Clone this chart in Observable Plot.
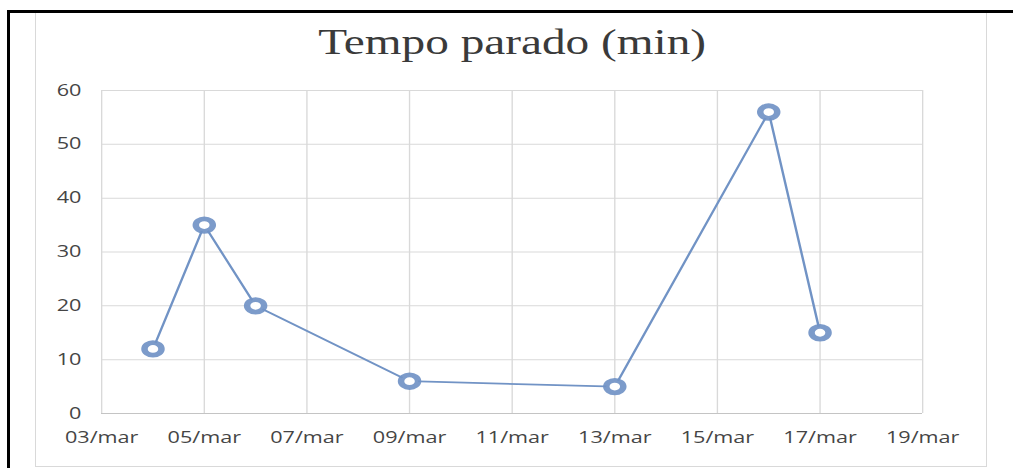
<!DOCTYPE html>
<html>
<head>
<meta charset="utf-8">
<script src="https://cdn.jsdelivr.net/npm/d3@7"></script>
<script src="https://cdn.jsdelivr.net/npm/@observablehq/plot@0.6"></script>
<style>
  html, body { margin: 0; padding: 0; background: #ffffff; }
  #wrap { position: relative; width: 1013px; height: 468px; overflow: hidden; background: #ffffff; }
  #wrap svg { position: absolute; left: 0; top: 0; }
  .frame { position: absolute; box-sizing: border-box; border: 1.5px solid #d9d9d9; left: 35px; top: 10px; width: 952px; height: 457px; }
  .btop { position: absolute; left: 7px; top: 10px; width: 1006px; height: 3px; background: #000; }
  .bleft { position: absolute; left: 7px; top: 10px; width: 3px; height: 458px; background: #000; }
</style>
</head>
<body>
<div id="wrap">
  <div class="frame"></div>
</div>
<script>
// Data
const days = [4, 5, 6, 9, 13, 16, 17];
const minutes = [12, 35, 20, 6, 5, 56, 15];
const xTicks = [3, 5, 7, 9, 11, 13, 15, 17, 19];
const xTickLabels = ["03/mar", "05/mar", "07/mar", "09/mar", "11/mar", "13/mar", "15/mar", "17/mar", "19/mar"];
const yTicks = [0, 10, 20, 30, 40, 50, 60];
const title = "Tempo parado (min)";

const data = days.map((d, i) => ({day: d, min: minutes[i]}));
const fmtX = d => xTickLabels[xTicks.indexOf(d)];

// internal drawing width, horizontally stretched to 1013px like the reference
const W = 750, H = 468, OUTW = 1013;
const sx = OUTW / W;

const lineColor = "#7193c5";

const svg = Plot.plot({
  width: W,
  height: H,
  marginLeft: 101 / sx,
  marginRight: W - 922 / sx,
  marginTop: 90,
  marginBottom: H - 413,
  style: {fontFamily: "'Open Sans', sans-serif", fontSize: "16px", color: "#454545", background: "transparent"},
  x: {domain: [3, 19], label: null},
  y: {domain: [0, 60], label: null},
  marks: [
    Plot.gridX(xTicks, {stroke: "#d9d9d9", strokeOpacity: 1, strokeWidth: 1}),
    Plot.gridY(yTicks, {stroke: "#d9d9d9", strokeOpacity: 1, strokeWidth: 1}),
    Plot.ruleY([0], {stroke: "#c4c4c4", strokeWidth: 1.2}),
    Plot.axisX({ticks: xTicks, tickFormat: fmtX, tickSize: 0, tickPadding: 18, label: null, fill: "#454545"}),
    Plot.axisY({ticks: yTicks, tickSize: 0, tickPadding: 15, label: null, fill: "#454545"}),
    Plot.line(data, {x: "day", y: "min", stroke: lineColor, strokeWidth: 1.8}),
    Plot.dot(data, {x: "day", y: "min", r: 6.3, stroke: lineColor, strokeWidth: 4.8, fill: "white", strokeOpacity: 0.92}),
    Plot.text([title], {frameAnchor: "top", dy: -37, lineAnchor: "bottom", fontSize: 35, fontFamily: "'Liberation Serif', serif", fill: "#3a3a3a"})
  ]
});

svg.setAttribute("viewBox", `0 0 ${W} ${H}`);
svg.setAttribute("width", OUTW);
svg.setAttribute("height", H);
svg.setAttribute("preserveAspectRatio", "none");
svg.style.width = OUTW + "px";
svg.style.height = H + "px";
svg.style.maxWidth = "none";

const wrap = document.getElementById("wrap");
wrap.appendChild(svg);
const t = document.createElement("div"); t.className = "btop"; wrap.appendChild(t);
const l = document.createElement("div"); l.className = "bleft"; wrap.appendChild(l);
</script>
</body>
</html>
